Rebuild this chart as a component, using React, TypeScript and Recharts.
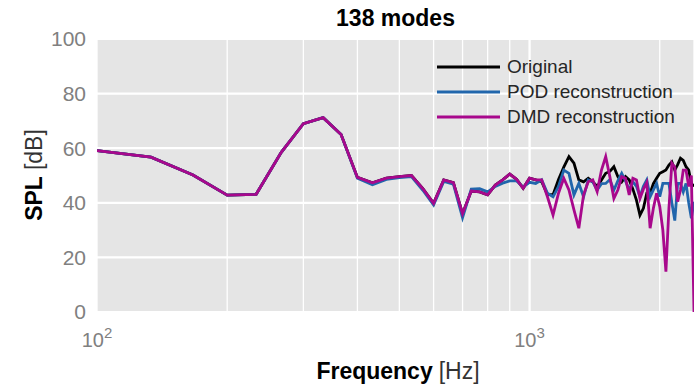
import {
  CartesianGrid,
  Legend,
  Line,
  LineChart,
  ReferenceLine,
  XAxis,
  YAxis,
} from "recharts";

const FONT = '"Liberation Sans", Arial, Helvetica, sans-serif';

// frequency bins (Hz), 33.3 Hz resolution
const freqs = [
  100, 133.3, 166.7, 200, 233.3, 266.7, 300, 333.3, 366.7, 400,
  433.3, 466.7, 500, 533.3, 566.7, 600, 633.3, 666.7, 700, 733.3,
  766.7, 800, 833.3, 866.7, 900, 933.3, 966.7, 1000, 1033.3, 1066.7,
  1100, 1133.3, 1166.7, 1200, 1233.3, 1266.7, 1300, 1333.3, 1366.7, 1400,
  1433.3, 1466.7, 1500, 1533.3, 1566.7, 1600, 1633.3, 1666.7, 1700, 1733.3,
  1766.7, 1800, 1833.3, 1866.7, 1900, 1933.3, 1966.7, 2000, 2033.3, 2066.7,
  2100, 2133.3, 2166.7, 2200, 2233.3, 2266.7, 2300, 2333.3, 2366.7, 2400,
];

// SPL in dB
const original = [
  59.1, 56.7, 50.2, 42.8, 43.1, 58.5, 69.0, 71.2, 65.0, 49.3,
  47.3, 49.0, 49.6, 50.0, 45.2, 39.8, 48.4, 47.4, 36.0, 44.3,
  44.0, 42.9, 46.5, 48.4, 50.5, 48.6, 45.3, 49.0, 48.4, 47.7,
  43.0, 43.0, 48.5, 53.1, 56.9, 54.5, 48.4, 47.7, 49.0, 47.7,
  46.0, 48.4, 50.8, 51.5, 53.2, 49.6, 47.7, 49.6, 48.4, 45.0,
  41.0, 35.5, 38.0, 43.5, 43.5, 47.0, 49.0, 50.8, 51.4, 52.0,
  53.8, 55.0, 52.0, 54.0, 56.3, 55.5, 53.2, 52.0, 47.1, 46.0,
];

const podRecon = [
  59.1, 56.7, 50.2, 42.8, 43.1, 58.5, 69.0, 71.2, 65.0, 49.0,
  46.6, 48.6, 49.2, 49.6, 44.6, 39.2, 47.8, 46.8, 34.5, 45.0,
  45.2, 44.0, 46.0, 47.2, 48.0, 48.0, 45.8, 47.5, 47.1, 48.4,
  43.5, 42.2, 46.0, 52.0, 50.8, 42.9, 47.1, 42.2, 48.4, 47.7,
  44.7, 47.0, 47.1, 48.5, 44.7, 48.0, 50.8, 48.0, 44.7, 47.7,
  46.0, 42.2, 46.0, 48.4, 42.2, 44.7, 47.1, 42.2, 47.1, 47.1,
  47.1, 40.0, 33.5, 47.1, 47.1, 44.0, 47.1, 40.0, 34.3, 40.4,
];

const dmdRecon = [
  59.1, 56.7, 50.2, 42.8, 43.1, 58.5, 69.0, 71.2, 65.0, 49.3,
  47.3, 49.0, 49.6, 50.0, 45.2, 39.8, 48.4, 47.4, 36.0, 44.3,
  44.0, 42.9, 46.5, 48.4, 50.5, 48.6, 45.3, 49.0, 48.4, 48.4,
  42.2, 35.5, 43.5, 49.0, 44.7, 37.4, 30.7, 42.9, 47.7, 48.4,
  44.1, 52.0, 56.9, 49.6, 41.6, 44.7, 49.6, 49.0, 42.9, 49.0,
  48.4, 41.6, 45.0, 47.4, 30.7, 38.0, 43.5, 38.6, 30.0, 14.8,
  38.0, 54.5, 53.0, 40.4, 44.7, 52.0, 52.0, 46.0, 50.0, 0,
];

const seriesNames = ["Original", "POD reconstruction", "DMD reconstruction"];

const xTicks = [100, 200, 300, 400, 500, 600, 700, 800, 900, 1000, 2000];
const xLabelTicks = [100, 1000];
const yTicks = [0, 20, 40, 60, 80, 100];

const data = freqs.map((f, i) => ({
  f,
  original: original[i],
  pod: podRecon[i],
  dmd: dmdRecon[i],
}));

// 10^n style tick labels, only on the decades
const renderXTick = (props: any) => {
  const { x, y, payload } = props;
  if (!xLabelTicks.includes(payload.value)) return <g />;
  const exp = Math.round(Math.log10(payload.value));
  return (
    <text x={x} y={y + 35} textAnchor="middle" fill="#808080" fontFamily={FONT}>
      <tspan fontSize={20}>10</tspan>
      <tspan fontSize={15} dy={-9}>
        {exp}
      </tspan>
    </text>
  );
};

const renderLegend = (props: any) => {
  // keep the series order instead of the alphabetical one
  const items = [...(props.payload || [])].sort(
    (a: any, b: any) => seriesNames.indexOf(a.value) - seriesNames.indexOf(b.value)
  );
  return (
    <div style={{ fontFamily: FONT, fontSize: 19, color: "#262626" }}>
      {items.map((entry: any) => (
        <div
          key={entry.value}
          style={{ display: "flex", alignItems: "center", height: 25 }}
        >
          <svg width={63} height={4} style={{ display: "block" }}>
            <line x1={0} y1={2} x2={63} y2={2} stroke={entry.color} strokeWidth={3} />
          </svg>
          <span style={{ marginLeft: 7, lineHeight: "25px", whiteSpace: "nowrap" }}>
            {entry.value}
          </span>
        </div>
      ))}
    </div>
  );
};

const xLabel = () => (
  <text x={398} y={379} textAnchor="middle" fontFamily={FONT} fontSize={23}>
    <tspan fontWeight="bold" fill="#000">
      Frequency
    </tspan>
    <tspan fill="#333" dx={6}>
      [Hz]
    </tspan>
  </text>
);

const yLabel = () => (
  <text
    x={42}
    y={175}
    transform="rotate(-90, 42, 175)"
    textAnchor="middle"
    fontFamily={FONT}
    fontSize={23}
  >
    <tspan fontWeight="bold" fill="#000">
      SPL
    </tspan>
    <tspan fill="#333" dx={6}>
      [dB]
    </tspan>
  </text>
);

export default function App() {
  return (
    <div style={{ position: "absolute", left: 0, top: 0, width: 695, height: 385 }}>
      <div
        style={{
          position: "absolute",
          left: 97,
          width: 597,
          top: 7,
          textAlign: "center",
          fontFamily: FONT,
          fontWeight: "bold",
          fontSize: 23,
          lineHeight: "23px",
          color: "#000",
        }}
      >
        138 modes
      </div>
      <LineChart
        width={695}
        height={385}
        data={data}
        margin={{ top: 39, right: 1, bottom: 0, left: 0 }}
      >
        <CartesianGrid
          horizontal={false}
          fill="#e5e5e5"
          stroke="#ffffff"
          strokeWidth={1.3}
        />
        <CartesianGrid vertical={false} stroke="#ffffff" strokeWidth={2.2} />
        <ReferenceLine x={1000} stroke="#ffffff" strokeWidth={2.2} />
        <XAxis
          dataKey="f"
          type="number"
          scale="log"
          domain={[100, 2400]}
          allowDataOverflow
          ticks={xTicks}
          interval={0}
          height={73}
          axisLine={false}
          tickLine={false}
          tickSize={0}
          tickMargin={0}
          tick={renderXTick}
          label={{ content: xLabel }}
        />
        <YAxis
          type="number"
          domain={[0, 100]}
          ticks={yTicks}
          width={97}
          axisLine={false}
          tickLine={false}
          tickSize={0}
          tickMargin={11}
          tick={{ fill: "#808080", fontSize: 21, fontFamily: FONT }}
          label={{ content: yLabel }}
        />
        <Legend
          layout="vertical"
          align="center"
          verticalAlign="middle"
          wrapperStyle={{ left: 437, top: 54, width: "auto" }}
          content={renderLegend}
        />
        <Line
          type="linear"
          dataKey="original"
          name={seriesNames[0]}
          stroke="#000000"
          strokeWidth={2.8}
          dot={false}
          isAnimationActive={false}
        />
        <Line
          type="linear"
          dataKey="pod"
          name={seriesNames[1]}
          stroke="#2166ac"
          strokeWidth={2.8}
          dot={false}
          isAnimationActive={false}
        />
        <Line
          type="linear"
          dataKey="dmd"
          name={seriesNames[2]}
          stroke="#a8088c"
          strokeWidth={2.8}
          dot={false}
          isAnimationActive={false}
        />
      </LineChart>
    </div>
  );
}
